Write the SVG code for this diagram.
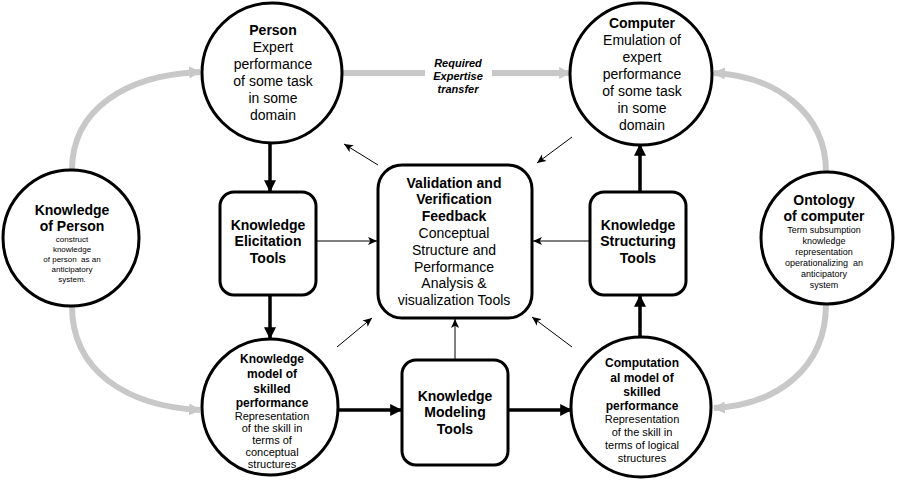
<svg xmlns="http://www.w3.org/2000/svg" width="897" height="485" viewBox="0 0 897 485">
<style>
.node{fill:#fff;stroke:#000;stroke-width:3}
text{font-family:"Liberation Sans",Arial,sans-serif;fill:#000;text-anchor:middle}
.b14{font-size:14px;font-weight:bold}
.r14{font-size:14px}
.b12{font-size:12px;font-weight:bold}
.r11{font-size:11px}
.s8{font-size:8px}
.s9{font-size:9px}
.lbl{font-size:11px;font-weight:bold;font-style:italic}
.thick{stroke:#000;stroke-width:3.5;fill:none}
.thin{stroke:#000;stroke-width:1;fill:none}
.gray{stroke:#c8c8c8;stroke-width:6;fill:none}
</style>
<defs>
<marker id="mThick" viewBox="0 0 10 10" refX="9" refY="5" markerWidth="12" markerHeight="12" markerUnits="userSpaceOnUse" orient="auto"><path d="M0,0 L10,5 L0,10 z" fill="#000"/></marker>
<marker id="mThin" viewBox="0 0 10 10" refX="10" refY="5" markerWidth="9" markerHeight="9" markerUnits="userSpaceOnUse" orient="auto"><path d="M0,0.5 L10,5 L0,9.5 L2.5,5 z" fill="#000"/></marker>
<marker id="mGray" viewBox="0 0 10 10" refX="9" refY="5" markerWidth="12" markerHeight="12" markerUnits="userSpaceOnUse" orient="auto"><path d="M0,0 L10,5 L0,10 z" fill="#c8c8c8"/></marker>
</defs>

<g id="connectors">
<path class="gray" d="M343,73 L425,73"/>
<path class="gray" d="M492,73 L570,73" marker-end="url(#mGray)"/>
<path class="gray" d="M72,170 C72,110 125,75 200,72" marker-end="url(#mGray)"/>
<path class="gray" d="M72,306 C72,370 125,406 200,410" marker-end="url(#mGray)"/>
<path class="gray" d="M826,172 C826,112 775,76 714,73" marker-end="url(#mGray)"/>
<path class="gray" d="M826,304 C826,370 775,405 714,408" marker-end="url(#mGray)"/>
<text class="lbl" x="458" y="67">Required</text>
<text class="lbl" x="458" y="80">Expertise</text>
<text class="lbl" x="458" y="93">transfer</text>

<path class="thick" d="M270,144 L270,191" marker-end="url(#mThick)"/>
<path class="thick" d="M270,296 L270,338" marker-end="url(#mThick)"/>
<path class="thick" d="M339,410 L401,410" marker-end="url(#mThick)"/>
<path class="thick" d="M509,410 L571,410" marker-end="url(#mThick)"/>
<path class="thick" d="M640,337 L640,296" marker-end="url(#mThick)"/>
<path class="thick" d="M640,191 L640,145" marker-end="url(#mThick)"/>

<path class="thin" d="M317,241 L377,241" marker-end="url(#mThin)"/>
<path class="thin" d="M589,241 L533,241" marker-end="url(#mThin)"/>
<path class="thin" d="M455,359 L455,319" marker-end="url(#mThin)"/>
<path class="thin" d="M378,165 L344,144" marker-end="url(#mThin)"/>
<path class="thin" d="M572,137 L537,163" marker-end="url(#mThin)"/>
<path class="thin" d="M337,347 L372,318" marker-end="url(#mThin)"/>
<path class="thin" d="M572,347 L532,317" marker-end="url(#mThin)"/>
</g>

<g id="person">
<circle class="node" cx="272" cy="73" r="70"/>
<text class="b14" x="273" y="35">Person</text>
<text class="r14" x="273" y="52">Expert</text>
<text class="r14" x="273" y="69">performance</text>
<text class="r14" x="273" y="86">of some task</text>
<text class="r14" x="273" y="103">in some</text>
<text class="r14" x="273" y="120">domain</text>
</g>

<g id="computer">
<circle class="node" cx="641" cy="74" r="71"/>
<text class="b14" x="642" y="28">Computer</text>
<text class="r14" x="642" y="45">Emulation of</text>
<text class="r14" x="642" y="62">expert</text>
<text class="r14" x="642" y="79">performance</text>
<text class="r14" x="642" y="96">of some task</text>
<text class="r14" x="642" y="113">in some</text>
<text class="r14" x="642" y="130">domain</text>
</g>

<g id="knowledge-of-person">
<circle class="node" cx="71" cy="238" r="68"/>
<text class="b14" x="72" y="215">Knowledge</text>
<text class="b14" x="72" y="231">of Person</text>
<text class="s8" x="72" y="242">construct</text>
<text class="s8" x="72" y="252">knowledge</text>
<text class="s8" x="72" y="262" xml:space="preserve">of person  as an</text>
<text class="s8" x="72" y="272">anticipatory</text>
<text class="s8" x="72" y="282">system.</text>
</g>

<g id="ontology">
<circle class="node" cx="827" cy="238" r="66"/>
<text class="b14" x="824" y="205">Ontology</text>
<text class="b14" x="824" y="221">of computer</text>
<text class="s9" x="824" y="233">Term subsumption</text>
<text class="s9" x="824" y="244">knowledge</text>
<text class="s9" x="824" y="255">representation</text>
<text class="s9" x="824" y="266" xml:space="preserve">operationalizing  an</text>
<text class="s9" x="824" y="277">anticipatory</text>
<text class="s9" x="824" y="288">system</text>
</g>

<g id="elicitation">
<rect class="node" x="220" y="192" width="96" height="103" rx="14"/>
<text class="b14" x="268" y="230">Knowledge</text>
<text class="b14" x="268" y="246">Elicitation</text>
<text class="b14" x="268" y="263">Tools</text>
</g>

<g id="structuring">
<rect class="node" x="590" y="192" width="96" height="103" rx="14"/>
<text class="b14" x="638" y="230">Knowledge</text>
<text class="b14" x="638" y="246">Structuring</text>
<text class="b14" x="638" y="263">Tools</text>
</g>

<g id="validation">
<rect class="node" x="378" y="165" width="154" height="153" rx="24"/>
<text class="b14" x="454" y="188">Validation and</text>
<text class="b14" x="454" y="204">Verification</text>
<text class="b14" x="454" y="221">Feedback</text>
<text class="r14" x="454" y="238">Conceptual</text>
<text class="r14" x="454" y="255">Structure and</text>
<text class="r14" x="454" y="272">Performance</text>
<text class="r14" x="454" y="288">Analysis &amp;</text>
<text class="r14" x="454" y="305">visualization Tools</text>
</g>

<g id="modeling">
<rect class="node" x="402" y="360" width="106" height="105" rx="14"/>
<text class="b14" x="455" y="401">Knowledge</text>
<text class="b14" x="455" y="417">Modeling</text>
<text class="b14" x="455" y="434">Tools</text>
</g>

<g id="knowledge-model">
<circle class="node" cx="270" cy="407" r="68"/>
<text class="b12" x="272" y="363">Knowledge</text>
<text class="b12" x="272" y="378">model of</text>
<text class="b12" x="272" y="393">skilled</text>
<text class="b12" x="272" y="407">performance</text>
<text class="r11" x="272" y="420">Representation</text>
<text class="r11" x="272" y="432">of the skill in</text>
<text class="r11" x="272" y="444">terms of</text>
<text class="r11" x="272" y="456">conceptual</text>
<text class="r11" x="272" y="468">structures</text>
</g>

<g id="computational-model">
<circle class="node" cx="641" cy="407" r="70"/>
<text class="b12" x="642" y="367">Computation</text>
<text class="b12" x="642" y="382">al model of</text>
<text class="b12" x="642" y="396">skilled</text>
<text class="b12" x="642" y="410">performance</text>
<text class="r11" x="642" y="423">Representation</text>
<text class="r11" x="642" y="436">of the skill in</text>
<text class="r11" x="642" y="449">terms of logical</text>
<text class="r11" x="642" y="462">structures</text>
</g>
</svg>
